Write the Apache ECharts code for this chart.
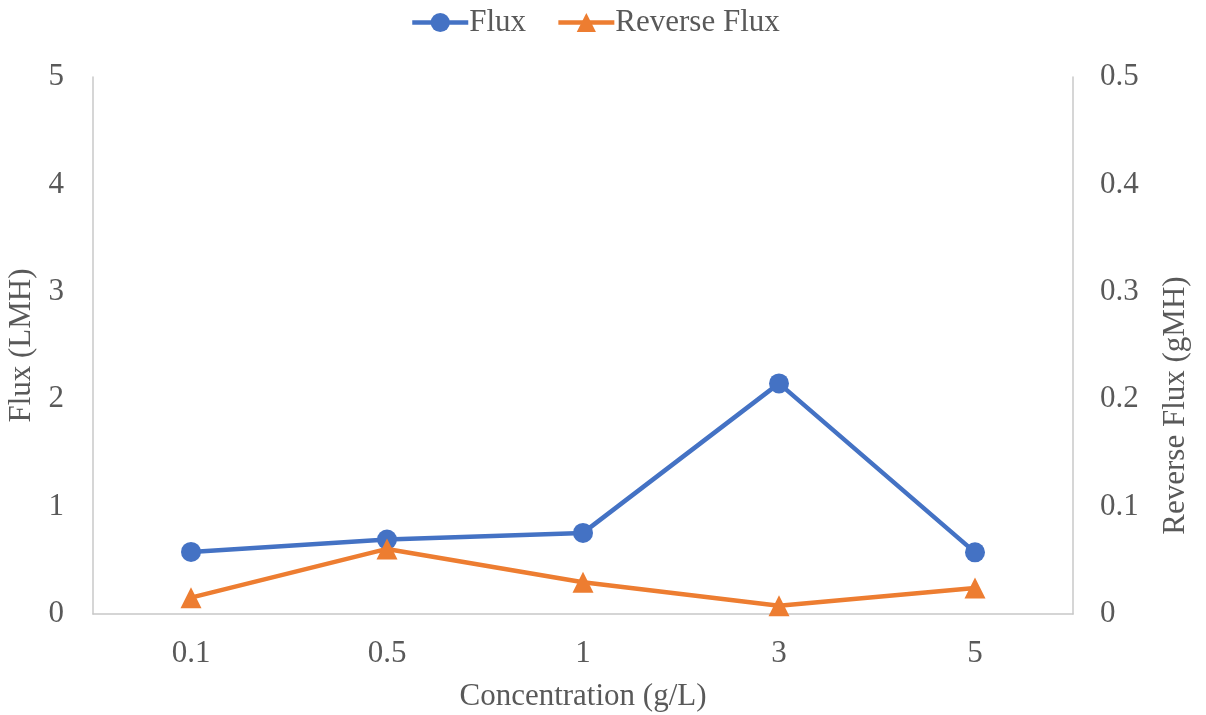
<!DOCTYPE html>
<html>
<head>
<meta charset="utf-8">
<script src="https://cdn.jsdelivr.net/npm/echarts@6/dist/echarts.min.js"></script>
<style>
  html, body { margin: 0; padding: 0; background: #fff; }
  #chart { width: 1206px; height: 715px; }
</style>
</head>
<body>
<div id="chart"></div>
<script>
// Concentration levels (g/L)
const categories = ['0.1', '0.5', '1', '3', '5'];
// Water flux (LMH), left axis
const fluxValues = [0.578, 0.693, 0.755, 2.147, 0.574];
// Reverse solute flux (gMH), right axis
const reverseFluxValues = [0.0152, 0.0606, 0.0295, 0.0077, 0.0242];

const FONT = '"Liberation Serif", "Times New Roman", serif';
const TEXT = '#595959';
const AXIS = '#c8c8c8';
const FS = 31;

const chart = echarts.init(document.getElementById('chart'));
chart.setOption({
  backgroundColor: '#ffffff',
  animation: false,
  textStyle: { fontFamily: FONT, color: TEXT },
  legend: {
    top: 2,
    left: 405,
    itemWidth: 56,
    itemHeight: 24,
    itemGap: 30,
    lineStyle: { width: 4.5 },
    textStyle: { fontFamily: FONT, fontSize: FS, color: TEXT, padding: [0, 0, 0, -4] },
    data: ['Flux', 'Reverse Flux']
  },
  grid: { left: 93, right: 133, top: 77, bottom: 101, containLabel: false, outerBoundsMode: 'none' },
  xAxis: {
    type: 'category',
    data: categories,
    boundaryGap: true,
    name: 'Concentration (g/L)',
    nameLocation: 'middle',
    nameGap: 67,
    nameTextStyle: { fontFamily: FONT, fontSize: FS, color: TEXT },
    axisLine: { show: true, lineStyle: { color: AXIS, width: 1.5 } },
    axisTick: { show: false },
    axisLabel: { fontFamily: FONT, fontSize: FS, color: TEXT, margin: 24 },
    splitLine: { show: false }
  },
  yAxis: [
    {
      type: 'value',
      min: 0, max: 5, interval: 1,
      name: 'Flux (LMH)',
      nameLocation: 'middle',
      nameGap: 53,
      nameTextStyle: { fontFamily: FONT, fontSize: FS, color: TEXT },
      axisLine: { show: true, lineStyle: { color: AXIS, width: 1.5 } },
      axisTick: { show: false },
      axisLabel: { fontFamily: FONT, fontSize: FS, color: TEXT, margin: 29 },
      splitLine: { show: false }
    },
    {
      type: 'value',
      min: 0, max: 0.5, interval: 0.1,
      name: 'Reverse Flux (gMH)',
      nameLocation: 'middle',
      nameGap: 87,
      nameTextStyle: { fontFamily: FONT, fontSize: FS, color: TEXT, padding: [0, 120, 0, 0] },
      axisLine: { show: true, lineStyle: { color: AXIS, width: 1.5 } },
      axisTick: { show: false },
      axisLabel: {
        fontFamily: FONT, fontSize: FS, color: TEXT, margin: 27,
        formatter: v => (v === 0 ? '0' : v.toFixed(1))
      },
      splitLine: { show: false }
    }
  ],
  series: [
    {
      name: 'Flux',
      type: 'line',
      yAxisIndex: 0,
      data: fluxValues,
      symbol: 'circle',
      symbolSize: 20,
      lineStyle: { color: '#4472c4', width: 4.5 },
      itemStyle: { color: '#4472c4' },
      z: 3
    },
    {
      name: 'Reverse Flux',
      type: 'line',
      yAxisIndex: 1,
      data: reverseFluxValues,
      symbol: 'triangle',
      symbolSize: 21,
      lineStyle: { color: '#ed7d31', width: 4.5 },
      itemStyle: { color: '#ed7d31' },
      z: 4
    }
  ]
});
</script>
</body>
</html>
